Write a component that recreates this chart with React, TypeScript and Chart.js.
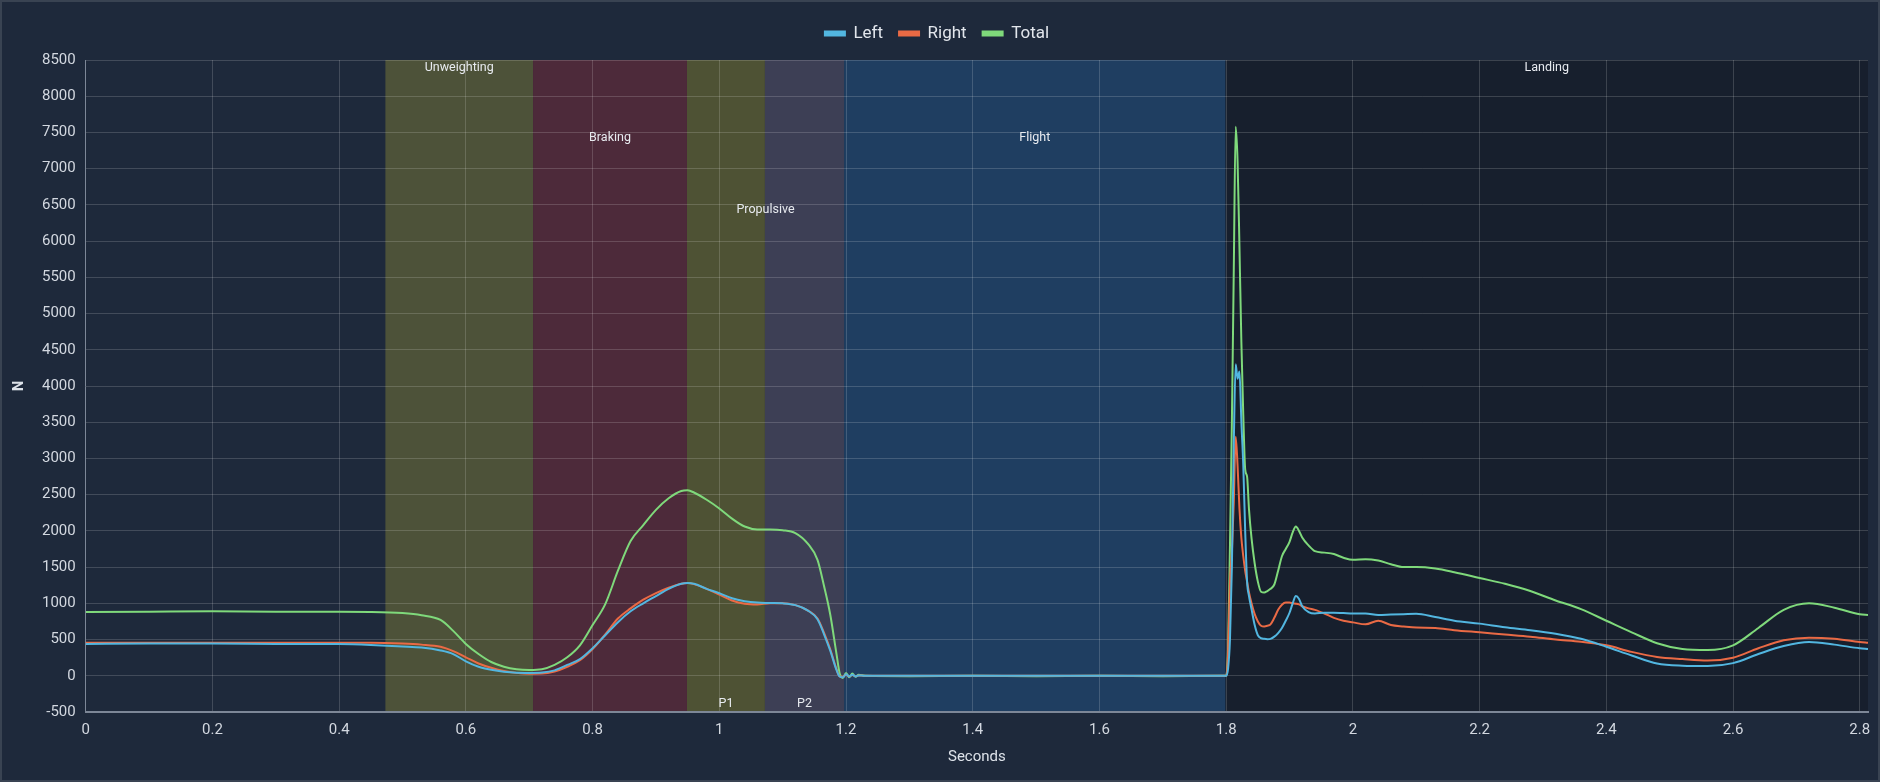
import React, { useEffect, useRef } from 'react';
import { Chart, registerables } from 'chart.js';

Chart.register(...registerables);

// time axis (s)
const seconds = [
  0, 0.1, 0.2, 0.3, 0.4, 0.45, 0.5, 0.53, 0.56, 0.58,
  0.6, 0.62, 0.64, 0.66, 0.68, 0.7, 0.72, 0.74, 0.76, 0.78,
  0.8, 0.82, 0.84, 0.86, 0.88, 0.9, 0.92, 0.94, 0.95, 0.96,
  0.98, 1.0, 1.02, 1.04, 1.06, 1.08, 1.1, 1.12, 1.14, 1.155,
  1.165, 1.175, 1.185, 1.19, 1.195, 1.2, 1.205, 1.21, 1.215, 1.22,
  1.23, 1.3, 1.4, 1.5, 1.6, 1.7, 1.79, 1.8, 1.803, 1.806,
  1.809, 1.812, 1.815, 1.818, 1.821, 1.824, 1.827, 1.83, 1.833, 1.836,
  1.84, 1.845, 1.85, 1.855, 1.86, 1.865, 1.87, 1.876, 1.882, 1.888,
  1.894, 1.9, 1.905, 1.91, 1.915, 1.92, 1.93, 1.94, 1.955, 1.97,
  1.985, 2.0, 2.02, 2.04, 2.06, 2.08, 2.1, 2.13, 2.16, 2.2,
  2.24, 2.28, 2.32, 2.36, 2.4, 2.44, 2.48, 2.52, 2.56, 2.6,
  2.64, 2.68, 2.72, 2.76, 2.8, 2.813,
];

const leftN = [
  440, 445, 445, 440, 437, 425, 405, 390, 350, 300,
  200, 125, 82, 55, 42, 40, 45, 75, 150, 230,
  380, 560, 740, 890, 1000, 1100, 1200, 1270, 1280, 1270,
  1200, 1140, 1070, 1030, 1010, 1005, 1000, 975, 900, 780,
  580, 350, 80, -10, -20, 20, -10, 15, -10, 5,
  0, 0, 0, 0, 0, 0, 0, 0, 100, 500,
  1500, 3200, 4300, 4100, 4200, 3500, 2900, 2000, 1300, 1100,
  920, 700, 560, 520, 510, 505, 510, 540, 590, 660,
  760, 870, 1000, 1100, 1060, 960, 880, 860, 870, 870,
  865, 860, 860, 840, 845, 850, 855, 810, 760, 720,
  670, 630, 580, 510, 400, 280, 170, 140, 135, 175,
  300, 410, 465, 430, 380, 370,
];

const rightN = [
  455, 455, 455, 455, 455, 455, 445, 430, 400, 340,
  255, 170, 110, 65, 40, 28, 30, 60, 125, 215,
  370, 570, 790, 930, 1050, 1140, 1215, 1270, 1280, 1265,
  1200, 1120, 1040, 995, 985, 1000, 1000, 975, 900, 790,
  600, 370, 90, -10, -15, 15, -10, 10, -8, 5,
  0, 0, 0, 0, 0, 0, 0, 0, 300, 1300,
  1700, 2400, 3300, 2900, 2300, 1900, 1650, 1450, 1300, 1150,
  1000, 850, 750, 690, 680, 690, 710, 800, 910, 980,
  1010, 1010, 1000, 995, 985, 960, 930, 910, 860, 800,
  760, 737, 710, 760, 700, 680, 665, 660, 630, 600,
  570, 540, 500, 470, 420, 330, 260, 230, 210, 250,
  380, 490, 525, 510, 465, 455,
];

const totalN = [
  880, 885, 890, 885, 885, 882, 865, 835, 770, 620,
  440, 300, 190, 125, 90, 80, 90, 150, 255, 420,
  700, 990, 1450, 1860, 2080, 2290, 2450, 2550, 2560, 2530,
  2430, 2310, 2170, 2060, 2020, 2020, 2010, 1970, 1820, 1600,
  1250, 850, 300, 30, -30, 40, -20, 30, -15, 15,
  0, -5, 0, -5, 0, -5, 0, 0, 400, 1800,
  3500, 5600, 7580, 7100, 5900, 4600, 3600, 2850, 2750, 2300,
  1900, 1550, 1300, 1160, 1150, 1170, 1200, 1260, 1450, 1650,
  1750, 1850, 1980, 2060, 2000, 1910, 1800, 1720, 1700, 1680,
  1630, 1600, 1610, 1590, 1540, 1500, 1500, 1480, 1430, 1350,
  1270, 1170, 1040, 920, 760, 600, 450, 370, 355, 420,
  660, 910, 1000, 940, 850, 840,
];

// jump phases (s)
const phaseStart = [0.473, 0.706, 0.949, 1.072, 1.197, 1.799];
const phaseEnd = [0.706, 0.949, 1.072, 1.197, 1.799, 2.813];
const phaseColors = ['#4d5239', '#4d2a3a', '#4e5234', '#3d3f55', '#1f3e61', '#171f2d'];

// phase captions: text, span start/end (s), height (N)
const captionText = ['Unweighting', 'Braking', 'Propulsive', 'Flight', 'Landing', 'P1', 'P2'];
const captionFrom = [0.473, 0.706, 0.949, 1.197, 1.799, 0.949, 1.072];
const captionTo = [0.706, 0.949, 1.197, 1.799, 2.813, 1.072, 1.197];
const captionLevel = [8390, 7426, 6436, 7426, 8390, -383, -383];

const FONT = 'Roboto, "Noto Sans", sans-serif';

const phasePlugin = {
  id: 'phases',
  beforeInit(chart: any) {
    // a little more room between legend and plot
    const legend = chart.legend;
    if (legend) {
      const fit = legend.fit.bind(legend);
      legend.fit = () => {
        fit();
        legend.height += 8;
      };
    }
  },
  beforeDraw(chart: any) {
    const { ctx, chartArea, scales } = chart;
    const x = scales.x;
    ctx.save();
    phaseStart.forEach((s, i) => {
      const x0 = x.getPixelForValue(s);
      const x1 = Math.min(x.getPixelForValue(phaseEnd[i]), chartArea.right);
      ctx.fillStyle = phaseColors[i];
      ctx.fillRect(x0, chartArea.top, x1 - x0, chartArea.bottom - chartArea.top);
    });
    ctx.restore();
  },
  beforeDatasetsDraw(chart: any) {
    const { ctx, scales } = chart;
    ctx.save();
    ctx.font = `12.5px ${FONT}`;
    ctx.fillStyle = '#e8ebf0';
    ctx.textAlign = 'center';
    ctx.textBaseline = 'middle';
    captionText.forEach((t, i) => {
      const cx = (scales.x.getPixelForValue(captionFrom[i]) + scales.x.getPixelForValue(captionTo[i])) / 2;
      ctx.fillText(t, cx, scales.y.getPixelForValue(captionLevel[i]));
    });
    ctx.restore();
  },
};

const App: React.FC = () => {
  const canvasRef = useRef<HTMLCanvasElement>(null);

  useEffect(() => {
    const ctx = canvasRef.current?.getContext('2d');
    if (!ctx) return;

    const line = (label: string, values: number[], color: string) => ({
      label,
      data: seconds.map((s, i) => ({ x: s, y: values[i] })),
      borderColor: color,
      backgroundColor: color,
      borderWidth: 2,
      pointRadius: 0,
      fill: false,
      cubicInterpolationMode: 'monotone',
    });

    const tickColor = '#d3d8e0';
    const gridColor = 'rgba(255,255,255,0.16)';

    const chart = new Chart(ctx, {
      type: 'line',
      data: {
        datasets: [
          line('Left', leftN, '#52b6e0'),
          line('Right', rightN, '#ea6a45'),
          line('Total', totalN, '#7fd97b'),
        ] as any,
      },
      options: {
        responsive: false,
        animation: false,
        layout: { padding: { top: 9, left: 6, right: 12, bottom: 12 } },
        plugins: {
          legend: {
            position: 'top',
            labels: {
              color: '#e2e6ec',
              font: { size: 17, family: FONT },
              boxWidth: 20,
              boxHeight: 4,
              padding: 16,
            },
          },
          tooltip: { enabled: false },
        },
        scales: {
          x: {
            type: 'linear',
            min: 0,
            max: 2.813,
            ticks: {
              stepSize: 0.2,
              includeBounds: false,
              color: tickColor,
              font: { size: 15, family: FONT },
              padding: 9,
              maxRotation: 0,
              callback: (v: any) => String(Math.round(Number(v) * 10) / 10),
            },
            grid: { color: gridColor, drawTicks: false },
            border: { color: '#7d8797', width: 2 },
            title: {
              display: true,
              text: 'Seconds',
              color: '#dde2e9',
              font: { size: 15, family: FONT },
              padding: { top: 0, bottom: 4 },
            },
          },
          y: {
            min: -500,
            max: 8500,
            ticks: {
              stepSize: 500,
              color: tickColor,
              font: { size: 15, family: FONT },
              padding: 10,
              callback: (v: any) => String(v),
            },
            grid: { color: gridColor, drawTicks: false },
            border: { color: '#7d8797', width: 1 },
            title: { display: true, text: 'N', color: '#dde2e9', font: { size: 15, family: FONT, weight: 'bold' } },
          },
        },
      },
      plugins: [phasePlugin],
    } as any);

    return () => chart.destroy();
  }, []);

  return (
    <div style={{ position: 'fixed', left: 0, top: 0, width: 1880, height: 782, background: '#1e293b' }}>
      <canvas ref={canvasRef} width={1880} height={782} style={{ display: 'block' }} />
      <div
        style={{
          position: 'absolute',
          inset: 0,
          border: '2px solid #394352',
          pointerEvents: 'none',
        }}
      />
    </div>
  );
};

export default App;
